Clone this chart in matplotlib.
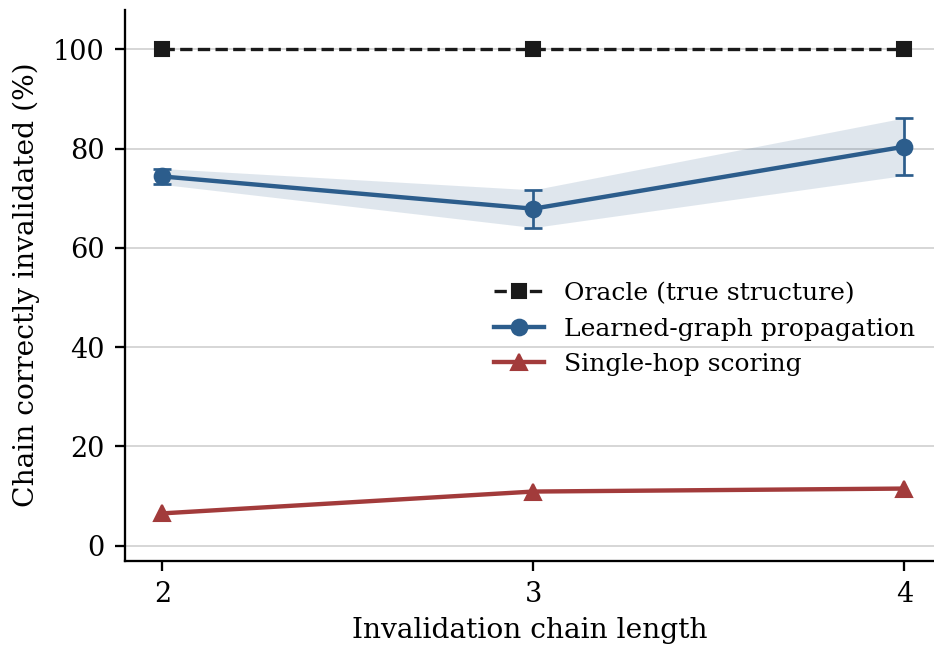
import matplotlib
matplotlib.use("Agg")
import matplotlib.pyplot as plt
import numpy as np

plt.rcParams['font.family'] = ['DejaVu Serif']

# data
chain_len = [2, 3, 4]
oracle = [100, 100, 100]
learned = [74.4, 67.9, 80.4]
learned_err = [1.6, 3.8, 5.8]
single_hop = [6.5, 10.9, 11.5]

blue = '#2c5d8c'
red = '#a23b3b'

fig, ax = plt.subplots(figsize=(6.227, 4.32), dpi=150)

h1, = ax.plot(chain_len, oracle, color='#1a1a1a', ls='--', marker='s', ms=6.5,
              lw=1.6, label='Oracle (true structure)', zorder=3)

lo = np.array(learned) - np.array(learned_err)
hi = np.array(learned) + np.array(learned_err)
ax.fill_between(chain_len, lo, hi, color=blue, alpha=0.15, lw=0)
ax.errorbar(chain_len, learned, yerr=learned_err, color=blue, fmt='none',
            capsize=4.5, capthick=1.3, elinewidth=1.3, zorder=3)
h2, = ax.plot(chain_len, learned, color=blue, marker='o', ms=7.5, lw=2.1,
              label='Learned-graph propagation', zorder=4)

h3, = ax.plot(chain_len, single_hop, color=red, marker='^', ms=7.5, lw=2.1,
              label='Single-hop scoring', zorder=3)

ax.set_xlim(1.9, 4.08)
ax.set_ylim(-3, 108)
ax.set_xticks(chain_len)
ax.set_yticks([0, 20, 40, 60, 80, 100])
ax.tick_params(labelsize=13, length=5, width=1.1, pad=5)
ax.grid(axis='y', color='#d0d0d0', lw=0.8)
ax.set_axisbelow(True)
for s in ['top', 'right']:
    ax.spines[s].set_visible(False)
for s in ['left', 'bottom']:
    ax.spines[s].set_linewidth(1.1)

ax.set_xlabel('Invalidation chain length', fontsize=13.5)
ax.set_ylabel('Chain correctly invalidated (%)', fontsize=13.5, labelpad=6)

ax.legend(handles=[h1, h2, h3], loc='center right',
          bbox_to_anchor=(1.005, 0.42), frameon=False, fontsize=12,
          handlelength=2.0)

fig.subplots_adjust(left=0.134, right=1.0, bottom=0.135, top=0.985)
fig.savefig('out.png', dpi=150)
